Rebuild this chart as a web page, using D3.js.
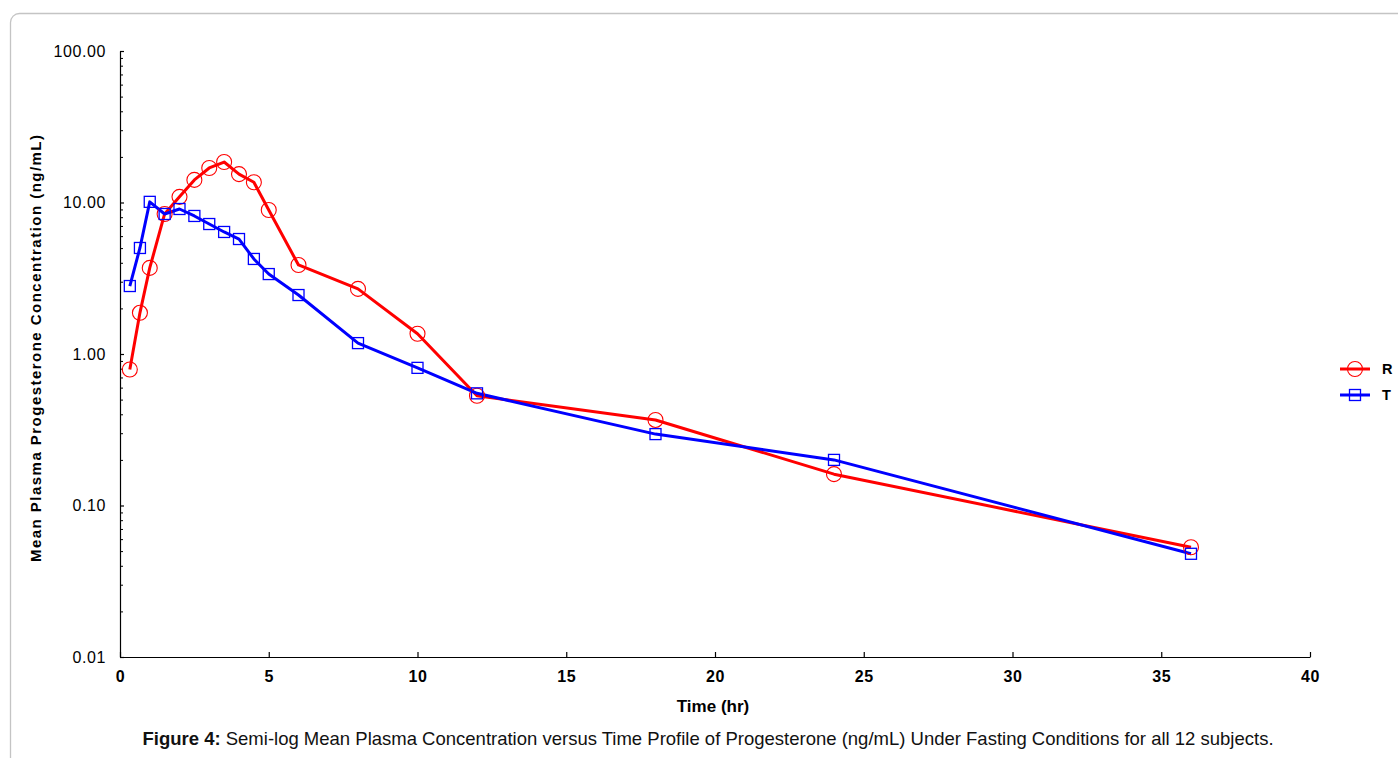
<!DOCTYPE html>
<html>
<head>
<meta charset="utf-8">
<script src="https://cdn.jsdelivr.net/npm/d3@7"></script>
<style>
  html, body { margin: 0; padding: 0; background: #fff; }
  svg { display: block; font-family: "Liberation Sans", Arial, sans-serif; }
</style>
</head>
<body>
<svg id="chart" width="1398" height="758"></svg>
<script>
// ---- data ----
const times = [0.33, 0.67, 1, 1.5, 2, 2.5, 3, 3.5, 4, 4.5, 5, 6, 8, 10, 12, 18, 24, 36];
const seriesR = [0.79, 1.87, 3.70, 8.40, 10.9, 14.1, 16.9, 18.5, 15.4, 13.6, 8.92, 3.87, 2.69, 1.36, 0.53, 0.367, 0.161, 0.053];
const seriesT = [2.81, 5.01, 10.1, 8.40, 9.06, 8.15, 7.21, 6.39, 5.74, 4.24, 3.37, 2.45, 1.18, 0.81, 0.55, 0.296, 0.20, 0.048];
const seriesNames = ["R", "T"];
const xTicks = [0, 5, 10, 15, 20, 25, 30, 35, 40];
const yTicks = [0.01, 0.1, 1, 10, 100];
const xTitle = "Time (hr)";
const yTitle = "Mean Plasma Progesterone Concentration (ng/mL)";
const captionBold = "Figure 4:";
const captionText = " Semi-log Mean Plasma Concentration versus Time Profile of Progesterone (ng/mL) Under Fasting Conditions for all 12 subjects.";

const FONT = "'Liberation Sans', Arial, sans-serif";
const svg = d3.select("#chart");

// frame (rounded border, extends past right/bottom edges)
svg.append("rect")
  .attr("x", 10.5).attr("y", 13.5)
  .attr("width", 1420).attr("height", 800)
  .attr("rx", 9).attr("ry", 9)
  .attr("fill", "none").attr("stroke", "#c4c4c4").attr("stroke-width", 1.3);

const x = d3.scaleLinear().domain([0, 40]).range([120, 1310]);
const y = d3.scaleLog().domain([0.01, 100]).range([657, 51]);

// y axis: minor ticks
const minors = [];
for (let d = 0.01; d < 100; d *= 10) {
  for (let k = 2; k <= 9; k++) minors.push(+(d * k).toPrecision(3));
}
const yMinor = svg.append("g").attr("transform", "translate(120,0)")
  .call(d3.axisLeft(y).tickValues(minors).tickFormat("").tickSize(4).tickSizeOuter(0));
yMinor.select(".domain").remove();
yMinor.selectAll(".tick line").attr("x2", 3).attr("stroke", "#000");

const yAxis = svg.append("g").attr("transform", "translate(120,0)")
  .call(d3.axisLeft(y).tickValues(yTicks).tickFormat(d3.format(".2f")).tickSize(6).tickSizeOuter(0).tickPadding(8));
yAxis.select(".domain").attr("stroke", "#000").attr("stroke-width", 1.2);
yAxis.selectAll(".tick line").attr("x2", 4).attr("stroke", "#000").attr("stroke-width", 1.2);
yAxis.selectAll(".tick text")
  .attr("font-size", 16).attr("letter-spacing", 0.6).attr("fill", "#000")
  .attr("font-family", FONT);

// x axis
const xAxis = svg.append("g").attr("transform", "translate(0,657)")
  .call(d3.axisBottom(x).tickValues(xTicks).tickSize(-5).tickSizeOuter(0).tickPadding(14));
xAxis.select(".domain").attr("stroke", "#000").attr("stroke-width", 1.2);
xAxis.selectAll(".tick line").attr("stroke", "#000").attr("stroke-width", 1.2);
xAxis.selectAll(".tick text")
  .attr("font-size", 16).attr("font-weight", "bold").attr("letter-spacing", 0.5).attr("fill", "#000")
  .attr("font-family", FONT);

// axis titles
svg.append("text")
  .attr("x", 713).attr("y", 712)
  .attr("text-anchor", "middle")
  .attr("font-size", 17).attr("font-weight", "bold")
  .text(xTitle);

svg.append("text")
  .attr("transform", "translate(41,348.5) rotate(-90)")
  .attr("text-anchor", "middle")
  .attr("font-size", 15).attr("font-weight", "bold")
  .attr("textLength", 427).attr("lengthAdjust", "spacing")
  .text(yTitle);

// series
const series = [
  { name: seriesNames[0], values: seriesR, color: "#ff0000", shape: "circle" },
  { name: seriesNames[1], values: seriesT, color: "#0000ff", shape: "square" }
];

const line = d3.line()
  .x((d, i) => x(times[i]))
  .y(d => y(d));

series.forEach(s => {
  svg.append("path")
    .datum(s.values)
    .attr("fill", "none")
    .attr("stroke", s.color)
    .attr("stroke-width", 3)
    .attr("stroke-linejoin", "round")
    .attr("d", line);
});

function drawMarker(g, shape, color, cx, cy) {
  if (shape === "circle") {
    g.append("circle").attr("cx", cx).attr("cy", cy).attr("r", 7.5)
      .attr("fill", "none").attr("stroke", color).attr("stroke-width", 1.1);
  } else {
    g.append("rect").attr("x", cx - 5.5).attr("y", cy - 5.5).attr("width", 11).attr("height", 11)
      .attr("fill", "none").attr("stroke", color).attr("stroke-width", 1.3);
  }
}

series.forEach(s => {
  const g = svg.append("g");
  s.values.forEach((v, i) => drawMarker(g, s.shape, s.color, x(times[i]), y(v)));
});

// legend
series.forEach((s, i) => {
  const ly = 369 + i * 26;
  const g = svg.append("g");
  g.append("line").attr("x1", 1340).attr("x2", 1370).attr("y1", ly).attr("y2", ly)
    .attr("stroke", s.color).attr("stroke-width", 3);
  drawMarker(g, s.shape, s.color, 1355, ly);
  g.append("text").attr("x", 1382).attr("y", ly + 5)
    .attr("font-size", 14.5).attr("font-weight", "bold").text(s.name);
});

// caption
const cap = svg.append("text")
  .attr("x", 708).attr("y", 745)
  .attr("text-anchor", "middle")
  .attr("font-size", 18.5).attr("fill", "#111");
cap.append("tspan").attr("font-weight", "bold").text(captionBold);
cap.append("tspan").text(captionText);
</script>
</body>
</html>
